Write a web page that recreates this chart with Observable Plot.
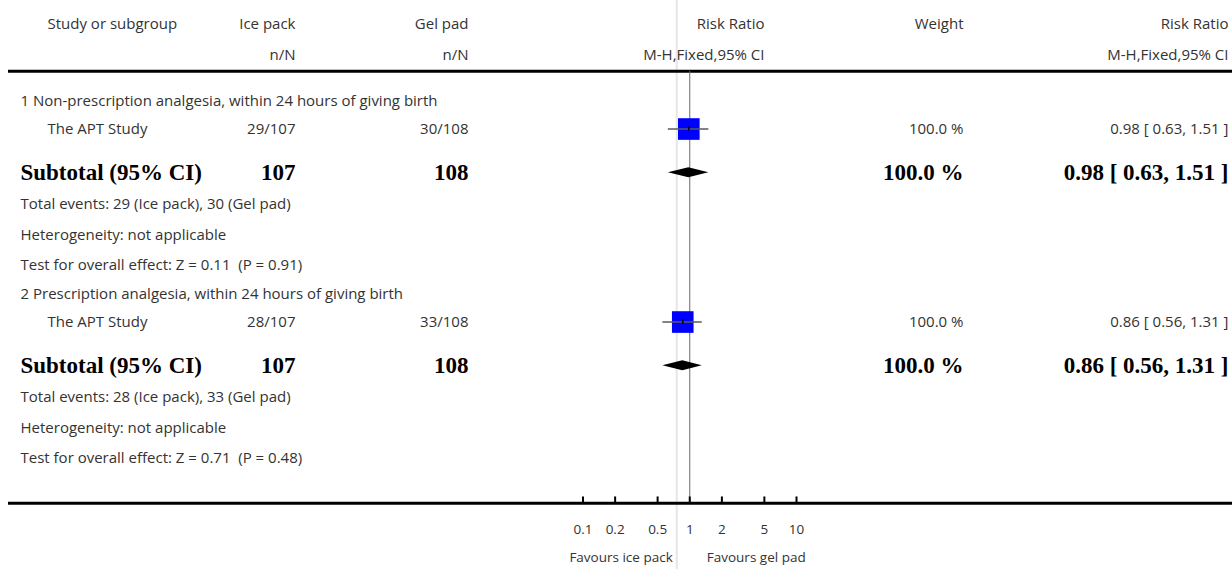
<!DOCTYPE html>
<html><head><meta charset="utf-8">
<script src="https://cdn.jsdelivr.net/npm/d3@7"></script>
<script src="https://cdn.jsdelivr.net/npm/@observablehq/plot@0.6"></script>
<style>html,body{margin:0;padding:0;background:#fff}#chart svg{display:block}</style>
</head><body><div id="chart"></div>
<script>
// ---- data ----
const subgroups = [
  "1 Non-prescription analgesia, within 24 hours of giving birth",
  "2 Prescription analgesia, within 24 hours of giving birth"
];
const studies = ["The APT Study", "The APT Study"];
const iceEvents = [29, 28];
const iceTotal = [107, 107];
const gelEvents = [30, 33];
const gelTotal = [108, 108];
const riskRatio = [0.98, 0.86];
const ciLow = [0.63, 0.56];
const ciHigh = [1.51, 1.31];
const weights = [100.0, 100.0];
const zValues = [0.11, 0.71];
const pValues = [0.91, 0.48];
const axisTicks = [0.1, 0.2, 0.5, 1, 2, 5, 10];
const groupA = "Ice pack", groupB = "Gel pad";
const leftLabel = "Favours ice pack", rightLabel = "Favours gel pad";

// ---- layout ----
const W = 1232, H = 569, unit = 29.6, firstRow = 101;
const L = {head1: -2.6, head2: -1.55, topRule: -1.02, bottomRule: 13.57, tickLab: 14.45, favours: 15.4};
const fmtCI = i => `${riskRatio[i].toFixed(2)} [ ${ciLow[i].toFixed(2)}, ${ciHigh[i].toFixed(2)} ]`;

const plain = [], bold = [], studyRows = [], diamonds = [];
let line = 0;
subgroups.forEach((g, i) => {
  if (i > 0) line += 0.98;
  plain.push({line, col: "label", text: g});
  line += 0.93;
  plain.push({line, col: "study", text: studies[i]});
  plain.push({line, col: "a", text: `${iceEvents[i]}/${iceTotal[i]}`});
  plain.push({line, col: "b", text: `${gelEvents[i]}/${gelTotal[i]}`});
  plain.push({line, col: "w", text: `${weights[i].toFixed(1)} %`});
  plain.push({line, col: "ci", text: fmtCI(i)});
  studyRows.push({line, rr: riskRatio[i], lo: ciLow[i], hi: ciHigh[i]});
  line += 1.48;
  bold.push({line, col: "label", text: "Subtotal (95% CI)"});
  bold.push({line, col: "a", text: `${iceTotal[i]}`});
  bold.push({line, col: "b", text: `${gelTotal[i]}`});
  bold.push({line, col: "w", text: `${weights[i].toFixed(1)} %`});
  bold.push({line, col: "ci", text: fmtCI(i)});
  const h = 0.17;
  diamonds.push({g: i, x: ciLow[i], y1: line, y2: line});
  diamonds.push({g: i, x: riskRatio[i], y1: line - h, y2: line + h});
  diamonds.push({g: i, x: ciHigh[i], y1: line, y2: line});
  line += 1.05;
  plain.push({line, col: "label", text: `Total events: ${iceEvents[i]} (${groupA}), ${gelEvents[i]} (${groupB})`});
  line += 1.07;
  plain.push({line, col: "label", text: "Heterogeneity: not applicable"});
  line += 1.01;
  plain.push({line, col: "label", text: `Test for overall effect: Z = ${zValues[i].toFixed(2)}\u00a0\u00a0(P = ${pValues[i].toFixed(2)})`});
});
const header = [
  {line: L.head1, col: "study", text: "Study or subgroup"},
  {line: L.head1, col: "a", text: groupA},
  {line: L.head2, col: "a", text: "n/N"},
  {line: L.head1, col: "b", text: groupB},
  {line: L.head2, col: "b", text: "n/N"},
  {line: L.head1, col: "rr", text: "Risk Ratio"},
  {line: L.head2, col: "rr", text: "M-H,Fixed,95% CI"},
  {line: L.head1, col: "w", text: "Weight"},
  {line: L.head1, col: "ci", text: "Risk Ratio"},
  {line: L.head2, col: "ci", text: "M-H,Fixed,95% CI"}
];
const cols = {
  label: {dx: 20, anchor: "start"},
  study: {dx: 47, anchor: "start"},
  a: {dx: 295, anchor: "end"},
  b: {dx: 468, anchor: "end"},
  rr: {dx: 764, anchor: "end"},
  w: {dx: 963, anchor: "end"},
  ci: {dx: 1228, anchor: "end"}
};
const SANS = "'Open Sans', Lato, sans-serif", SERIF = "'Liberation Serif', 'DejaVu Serif', serif";
function colTexts(data, font) {
  return Object.entries(cols).map(([k, c]) => Plot.text(data.filter(d => d.col === k), {
    y: "line", text: "text", frameAnchor: "left", dx: c.dx, textAnchor: c.anchor, ...font
  }));
}
const plainFont = {fontFamily: SANS, fontSize: 15, fill: "#333"};
const boldFont = {fontFamily: SERIF, fontSize: 23, fontWeight: "bold", fill: "#000"};
const smallFont = {fontFamily: SANS, fontSize: 13.5, fill: "#333"};

const chart = Plot.plot({
  width: W, height: H,
  marginTop: 0, marginRight: 0, marginBottom: 0, marginLeft: 0,
  x: {type: "log", domain: [0.1, 10], range: [582.5, 796], axis: null},
  y: {type: "linear", domain: [-firstRow / unit, (H - firstRow) / unit], range: [0, H], axis: null},
  style: {background: "#fff", fontFamily: SANS},
  marks: [
    Plot.ruleX([1], {dx: -13, stroke: "#e6e6e6", strokeWidth: 2}),
    Plot.ruleY([L.topRule, L.bottomRule], {insetLeft: 8, stroke: "#000", strokeWidth: 3}),
    Plot.ruleX([1], {y1: L.topRule, y2: L.bottomRule, stroke: "#6a6a6a", strokeWidth: 1}),
    Plot.ruleX(axisTicks, {x: d => d, y1: L.bottomRule, y2: L.bottomRule - 0.21, stroke: "#000", strokeWidth: 2}),
    Plot.text(axisTicks, {x: d => d, y: () => L.tickLab, text: d => String(d), ...smallFont}),
    Plot.text([leftLabel], {x: () => 1, y: () => L.favours, text: d => d, dx: -17, textAnchor: "end", ...smallFont}),
    Plot.text([rightLabel], {x: () => 1, y: () => L.favours, text: d => d, dx: 17, textAnchor: "start", ...smallFont}),
    Plot.dot(studyRows, {x: "rr", y: "line", symbol: "square", r: 12.2, fill: "#0000ff", stroke: "none"}),
    Plot.ruleY(studyRows, {x1: "lo", x2: "hi", y: "line", stroke: "#5a5a5a", strokeWidth: 1.5}),
    Plot.ruleX(studyRows, {x: "rr", y1: d => d.line - 0.07, y2: d => d.line + 0.07, stroke: "#000", strokeWidth: 1.5}),
    Plot.areaY(diamonds, {x: "x", y1: "y1", y2: "y2", z: "g", fill: "#000", curve: "linear"}),
    ...colTexts(header, plainFont),
    ...colTexts(plain, plainFont),
    ...colTexts(bold, boldFont)
  ]
});
document.getElementById("chart").append(chart);
</script>
</body></html>
